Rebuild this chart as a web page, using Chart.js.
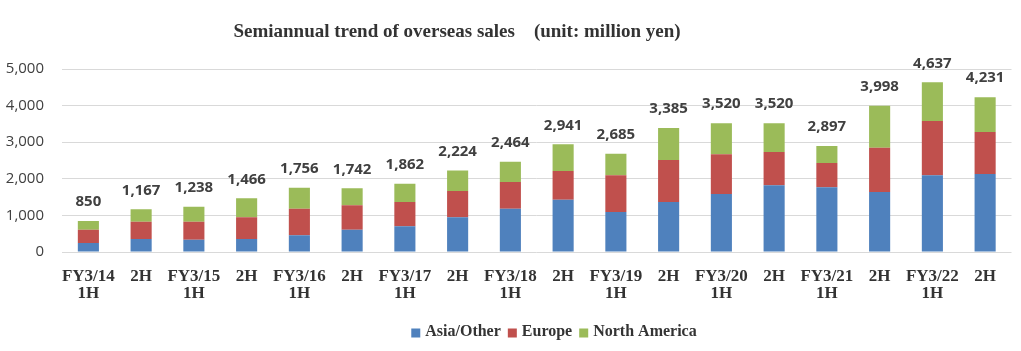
<!DOCTYPE html>
<html>
<head>
<meta charset="utf-8">
<script src="https://cdn.jsdelivr.net/npm/chart.js@4/dist/chart.umd.min.js"></script>
<style>
html,body{margin:0;padding:0;background:#fff;}
#wrap{width:1021px;height:351px;}
</style>
</head>
<body>
<div id="wrap"><canvas id="c" width="1021" height="351"></canvas></div>
<script>
const categories = [["FY3/14","1H"],"2H",["FY3/15","1H"],"2H",["FY3/16","1H"],"2H",["FY3/17","1H"],"2H",["FY3/18","1H"],"2H",["FY3/19","1H"],"2H",["FY3/20","1H"],"2H",["FY3/21","1H"],"2H",["FY3/22","1H"],"2H"];
const asiaOther    = [246,355,337,355,455,610,701,947,1184,1430,1093,1366,1585,1821,1767,1639,2095,2131];
const europe       = [364,474,492,592,729,665,665,720,729,783,1002,1148,1083,911,665,1212,1484,1148];
const northAmerica = [240,338,409,519,572,467,496,557,551,728,590,871,852,788,465,1147,1058,952];
const totals       = [850,1167,1238,1466,1756,1742,1862,2224,2464,2941,2685,3385,3520,3520,2897,3998,4637,4231];
const yTicks = [0,1000,2000,3000,4000,5000];
const titleText = "Semiannual trend of overseas sales    (unit: million yen)";

const totalsPlugin = {
  id: 'totals',
  afterDatasetsDraw(chart) {
    const ctx = chart.ctx, x = chart.scales.x, y = chart.scales.y;
    ctx.save();
    ctx.font = "bold 15px 'Open Sans'";
    ctx.fillStyle = "#404040";
    ctx.textAlign = "center";
    ctx.textBaseline = "middle";
    totals.forEach((t, i) => {
      ctx.fillText(t.toLocaleString('en-US'), x.getPixelForValue(i), y.getPixelForValue(t) - 19);
    });
    ctx.restore();
  }
};

const titlePlugin = {
  id: 'customTitle',
  afterDraw(chart) {
    const ctx = chart.ctx;
    ctx.save();
    ctx.font = "bold 19px 'Liberation Serif'";
    ctx.fillStyle = "#333333";
    ctx.textAlign = "center";
    ctx.textBaseline = "middle";
    ctx.fillText(titleText, 457, 32);
    ctx.restore();
  }
};

const legendPlugin = {
  id: 'customLegend',
  afterDraw(chart) {
    const ctx = chart.ctx;
    ctx.save();
    ctx.font = "bold 16px 'Liberation Serif'";
    ctx.textBaseline = "middle";
    const box = 9, gapBox = 5, gapItem = 7;
    const items = chart.data.datasets.map(d => ({label: d.label, color: d.backgroundColor, w: ctx.measureText(d.label).width}));
    let total = 0;
    items.forEach((it, i) => { total += box + gapBox + it.w + (i < items.length - 1 ? gapItem : 0); });
    let x = 554 - total / 2;
    const cy = 332;
    items.forEach(it => {
      ctx.fillStyle = it.color;
      ctx.fillRect(x, cy - box / 2 + 1, box, box);
      x += box + gapBox;
      ctx.fillStyle = "#333333";
      ctx.textAlign = "left";
      ctx.fillText(it.label, x, cy);
      x += it.w + gapItem;
    });
    ctx.restore();
  }
};

new Chart(document.getElementById('c'), {
  type: 'bar',
  data: {
    labels: categories,
    datasets: [
      {label: 'Asia/Other', data: asiaOther, backgroundColor: '#4F81BD'},
      {label: 'Europe', data: europe, backgroundColor: '#C0504D'},
      {label: 'North America', data: northAmerica, backgroundColor: '#9BBB59'}
    ]
  },
  options: {
    responsive: false,
    animation: false,
    layout: {padding: {top: 69, right: 9.5, bottom: 0, left: 0}},
    plugins: {legend: {display: false}, title: {display: false}, tooltip: {enabled: false}},
    datasets: {bar: {barPercentage: 0.4, categoryPercentage: 1.0}},
    scales: {
      x: {
        stacked: true,
        grid: {display: false, drawTicks: false},
        border: {display: false},
        ticks: {
          padding: 16,
          color: '#333333',
          font: {family: 'Liberation Serif', weight: 'bold', size: 17, lineHeight: 1.0},
          maxRotation: 0, autoSkip: false
        },
        afterFit(s) { s.height = 99; }
      },
      y: {
        stacked: true,
        min: 0, max: 5000,
        afterBuildTicks(s) { s.ticks = yTicks.map(v => ({value: v})); },
        grid: {color: '#D9D9D9', lineWidth: 1, drawTicks: false},
        border: {display: false},
        ticks: {
          padding: 18,
          color: '#404040',
          font: {family: 'Open Sans', size: 15},
          callback: v => v.toLocaleString('en-US')
        },
        afterFit(s) { s.width = 62; }
      }
    }
  },
  plugins: [totalsPlugin, titlePlugin, legendPlugin]
});
</script>
</body>
</html>
